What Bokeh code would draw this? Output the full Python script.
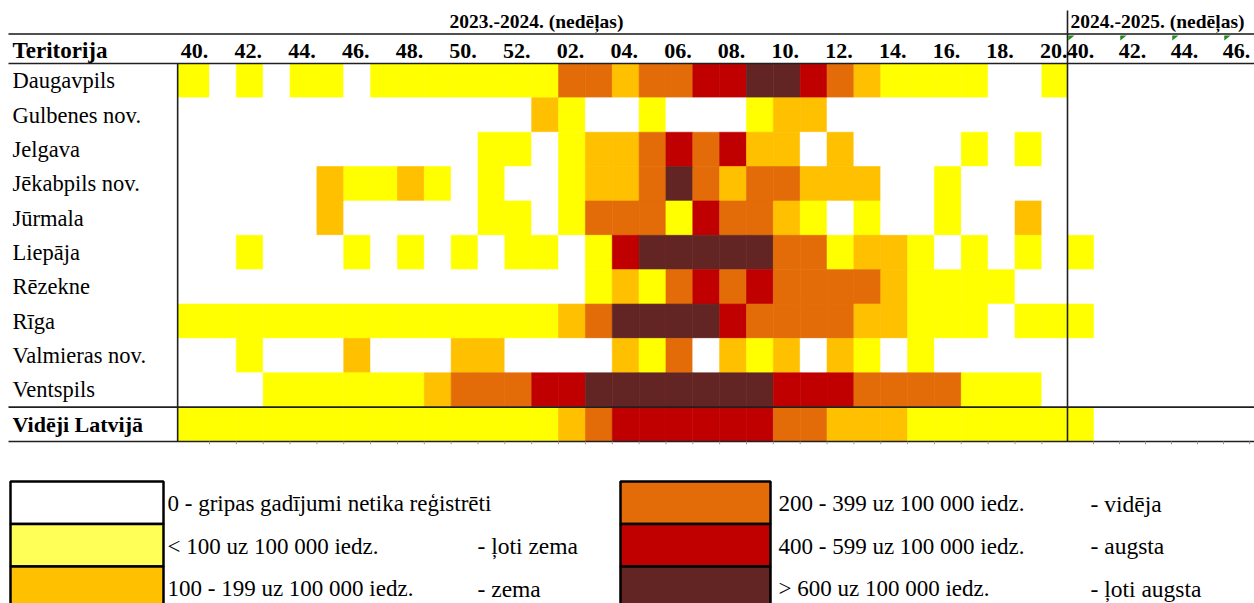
from bokeh.plotting import figure
from bokeh.models import Range1d, ColumnDataSource
from bokeh.embed import file_html
from bokeh.resources import INLINE
from bokeh.core.properties import value

# ---------------- data ----------------
weeks_2023_24 = ["40", "41", "42", "43", "44", "45", "46", "47", "48", "49", "50", "51", "52",
                 "01", "02", "03", "04", "05", "06", "07", "08", "09", "10", "11", "12", "13",
                 "14", "15", "16", "17", "18", "19", "20"]
weeks_2024_25 = ["40", "41", "42", "43", "44", "45", "46"]
season_titles = ["2023.-2024. (nedēļas)", "2024.-2025. (nedēļas)"]

regions = ["Daugavpils", "Gulbenes nov.", "Jelgava", "Jēkabpils nov.", "Jūrmala",
           "Liepāja", "Rēzekne", "Rīga", "Valmieras nov.", "Ventspils"]
total_label = "Vidēji Latvijā"
header_label = "Teritorija"

# intensity level per week: 0 none, 1 very low, 2 low, 3 medium, 4 high, 5 very high
daugavpils = [1, 0, 1, 0, 1, 1, 0, 1, 1, 1, 1, 1, 1, 1, 3, 3, 2, 3, 3, 4, 4, 5, 5, 4, 3, 2, 1, 1, 1, 1, 0, 0, 1]
gulbenes   = [0, 0, 0, 0, 0, 0, 0, 0, 0, 0, 0, 0, 0, 2, 1, 0, 0, 1, 0, 0, 0, 1, 2, 2, 0, 0, 0, 0, 0, 0, 0, 0, 0]
jelgava    = [0, 0, 0, 0, 0, 0, 0, 0, 0, 0, 0, 1, 1, 0, 1, 2, 2, 3, 4, 3, 4, 2, 2, 0, 2, 0, 0, 0, 0, 1, 0, 1, 0]
jekabpils  = [0, 0, 0, 0, 0, 2, 1, 1, 2, 1, 0, 1, 0, 0, 1, 2, 2, 3, 5, 3, 2, 3, 3, 2, 2, 2, 0, 0, 1, 0, 0, 0, 0]
jurmala    = [0, 0, 0, 0, 0, 2, 0, 0, 0, 0, 0, 1, 1, 0, 1, 3, 3, 3, 1, 4, 3, 3, 2, 1, 0, 1, 0, 0, 1, 0, 0, 2, 0]
liepaja    = [0, 0, 1, 0, 0, 0, 1, 0, 1, 0, 1, 0, 1, 1, 0, 1, 4, 5, 5, 5, 5, 5, 3, 3, 1, 2, 2, 1, 0, 1, 0, 1, 0]
rezekne    = [0, 0, 0, 0, 0, 0, 0, 0, 0, 0, 0, 0, 0, 0, 0, 1, 2, 1, 3, 4, 3, 4, 3, 3, 3, 3, 2, 1, 1, 1, 1, 0, 0]
riga       = [1, 1, 1, 1, 1, 1, 1, 1, 1, 1, 1, 1, 1, 1, 2, 3, 5, 5, 5, 5, 4, 3, 3, 3, 3, 2, 2, 1, 1, 1, 0, 1, 1]
valmieras  = [0, 0, 1, 0, 0, 0, 2, 0, 0, 0, 2, 2, 0, 0, 0, 0, 2, 1, 3, 0, 2, 1, 2, 0, 2, 1, 0, 1, 0, 0, 0, 0, 0]
ventspils  = [0, 0, 0, 1, 1, 1, 1, 1, 1, 2, 3, 3, 3, 4, 4, 5, 5, 5, 5, 5, 5, 5, 4, 4, 4, 3, 3, 3, 3, 1, 1, 1, 0]
latvija    = [1, 1, 1, 1, 1, 1, 1, 1, 1, 1, 1, 1, 1, 1, 2, 3, 4, 4, 4, 4, 4, 4, 3, 3, 2, 2, 2, 1, 1, 1, 1, 1, 1]

# 2024-2025 season: only week 40 reported (order = regions + total)
season2_week40 = [0, 0, 0, 0, 0, 1, 0, 1, 0, 0, 1]

level_colors = ["#FFFFFF", "#FFFF00", "#FFC000", "#E36C09", "#C00000", "#632523"]
legend_colors = ["#FFFFFF", "#FFFF57", "#FFC000", "#E36C09", "#C00000", "#632523"]
legend_ranges = ["0 - gripas gadījumi netika reģistrēti", "<  100 uz 100 000 iedz.",
                 "100 - 199 uz 100 000 iedz.", "200 - 399 uz 100 000 iedz.",
                 "400 - 599 uz 100 000 iedz.", ">  600 uz 100 000 iedz."]
legend_levels = ["", "- ļoti zema", "- zema", "- vidēja", "- augsta", "- ļoti augsta"]

series = [daugavpils, gulbenes, jelgava, jekabpils, jurmala, liepaja,
          rezekne, riga, valmieras, ventspils, latvija]
row_labels = regions + [total_label]

# ---------------- layout ----------------
FIG_W, FIG_H = 1254, 603
CW = 26.85                 # column width px (season 2023-24)
ORIGIN = 209 - CW          # nominal left edge of first week column (px)
FIRST_EXTRA = 5 / CW       # first week column is drawn slightly wider
CW2 = 26.0                 # column width px (season 2024-25)
S2_LEFT = 1067             # left edge of season 2024-25 block (px)
Y0 = 63                    # top of first data row (px)
RH = 378 / 11              # row height px

n1 = len(weeks_2023_24)
n2 = len(weeks_2024_25)


def dx(px):
    return (px - ORIGIN) / CW


def dx2(px):
    return n1 + (px - S2_LEFT) / CW2


def dy(py):
    return (py - Y0) / RH


FONT = value("Liberation Serif")

p = figure(width=FIG_W, height=FIG_H,
           x_range=Range1d(dx(0), dx(FIG_W)),
           y_range=Range1d(dy(FIG_H), dy(0)),
           output_backend="svg", toolbar_location=None,
           x_axis_type=None, y_axis_type=None, min_border=0)
p.extra_x_ranges = {"s2": Range1d(dx2(0), dx2(FIG_W))}
p.outline_line_color = None
p.grid.visible = False
p.background_fill_color = "white"

# ---------------- cells ----------------
L, R, T, B, C = [], [], [], [], []
for r, s in enumerate(series):
    for i, lvl in enumerate(s):
        L.append(i - (FIRST_EXTRA if i == 0 else 0)); R.append(i + 1)
        T.append(r); B.append(r + 1); C.append(level_colors[lvl])
p.quad(left="left", right="right", top="top", bottom="bottom",
       source=ColumnDataSource(dict(left=L, right=R, top=T, bottom=B, color=C)),
       fill_color="color", line_color="color", line_width=0.6)

L2, R2, T2, B2, C2 = [], [], [], [], []
for r, lvl in enumerate(season2_week40):
    L2.append(n1); R2.append(n1 + 1); T2.append(r); B2.append(r + 1); C2.append(level_colors[lvl])
p.quad(left="left", right="right", top="top", bottom="bottom", x_range_name="s2",
       source=ColumnDataSource(dict(left=L2, right=R2, top=T2, bottom=B2, color=C2)),
       fill_color="color", line_color="color", line_width=0.6)

# ---------------- lines ----------------
x_left = dx(8)
x_right = p.x_range.end
n_rows = len(series)
p.segment(x0=[x_left], x1=[x_right], y0=[dy(33.5)], y1=[dy(33.5)], line_color="#505050", line_width=2)
p.segment(x0=[x_left, x_left, x_left], x1=[x_right] * 3,
          y0=[0, n_rows - 1, n_rows], y1=[0, n_rows - 1, n_rows],
          line_color="#202020", line_width=1.6)
p.segment(x0=[-FIRST_EXTRA], x1=[-FIRST_EXTRA], y0=[0], y1=[n_rows], line_color="#202020", line_width=1.6)
p.segment(x0=[n1], x1=[n1], y0=[dy(10)], y1=[n_rows], x_range_name="s2",
          line_color="#202020", line_width=1.6)
# small grid ticks under the table
tick_x = list(range(1, n1))
p.segment(x0=tick_x, x1=tick_x, y0=[n_rows] * len(tick_x), y1=[n_rows + 0.08] * len(tick_x),
          line_color="#9a9a9a", line_width=1)
tick_x2 = list(range(n1 + 1, n1 + n2 + 1))
p.segment(x0=tick_x2, x1=tick_x2, y0=[n_rows] * len(tick_x2), y1=[n_rows + 0.08] * len(tick_x2),
          x_range_name="s2", line_color="#9a9a9a", line_width=1)

# green comment markers in 2024-25 header
tri_xs, tri_ys = [], []
for j in range(0, n2, 2):
    c = n1 + j
    tri_xs.append([c + 0.03, c + 0.27, c + 0.03])
    tri_ys.append([dy(35), dy(35), dy(40)])
p.patches(xs=tri_xs, ys=tri_ys, x_range_name="s2", fill_color="#1E8C1E", line_color=None)

# ---------------- texts ----------------
p.text(x=[dx(12)] * len(regions), y=[r + 0.5 for r in range(len(regions))], text=regions,
       text_font=FONT, text_font_size="22.5px", text_align="left", text_baseline="middle",
       text_color="black")
p.text(x=[dx(12)], y=[n_rows - 0.5], text=[total_label], text_font=FONT, text_font_style="bold",
       text_font_size="22px", text_align="left", text_baseline="middle", text_color="black")
p.text(x=[dx(12)], y=[dy(50)], text=[header_label], text_font=FONT, text_font_style="bold",
       text_font_size="23px", text_align="left", text_baseline="middle", text_color="black")

hx = [i + 0.5 for i in range(0, n1, 2)]
ht = [weeks_2023_24[i] + "." for i in range(0, n1, 2)]
p.text(x=hx, y=[dy(50)] * len(hx), text=ht, x_offset=-1.5, text_font=FONT, text_font_style="bold",
       text_font_size="22px", text_align="center", text_baseline="middle", text_color="black")
hx2 = [n1 + j + 0.5 for j in range(0, n2, 2)]
ht2 = [weeks_2024_25[j] + "." for j in range(0, n2, 2)]
p.text(x=hx2, y=[dy(50)] * len(hx2), text=ht2, x_range_name="s2", text_font=FONT,
       text_font_style="bold", text_font_size="22px", text_align="center", text_baseline="middle",
       text_color="black")

p.text(x=[dx(536)], y=[dy(21)], text=[season_titles[0]], text_font=FONT, text_font_style="bold",
       text_font_size="19.5px", text_align="center", text_baseline="middle", text_color="black")
p.text(x=[n1 + 0.12], y=[dy(21)], text=[season_titles[1]], x_range_name="s2", text_font=FONT,
       text_font_style="bold", text_font_size="19.5px", text_align="left", text_baseline="middle",
       text_color="black")

# ---------------- legend ----------------
box_h = 42.5
leg_top = 481
lq = dict(left=[], right=[], top=[], bottom=[], color=[])
lt = dict(x=[], y=[], text=[])
ls = dict(x=[], y=[], text=[])
for k in range(len(legend_colors)):
    col = k // 3
    row = k % 3
    bx0, bx1 = (10, 163) if col == 0 else (620, 770)
    tx = 167 if col == 0 else 778
    sx = 477 if col == 0 else 1090
    top = leg_top + row * box_h
    lq["left"].append(dx(bx0)); lq["right"].append(dx(bx1))
    lq["top"].append(dy(top)); lq["bottom"].append(dy(top + box_h))
    lq["color"].append(legend_colors[k])
    lt["x"].append(dx(tx)); lt["y"].append(dy(top + box_h / 2 + 1)); lt["text"].append(legend_ranges[k])
    ls["x"].append(dx(sx)); ls["y"].append(dy(top + box_h / 2 + 1)); ls["text"].append(legend_levels[k])
p.quad(left="left", right="right", top="top", bottom="bottom", source=ColumnDataSource(lq),
       fill_color="color", line_color="black", line_width=2.5)
p.text(x="x", y="y", text="text", source=ColumnDataSource(lt), text_font=FONT,
       text_font_size="23px", text_align="left", text_baseline="middle", text_color="black")
p.text(x="x", y="y", text="text", source=ColumnDataSource(ls), text_font=FONT,
       text_font_size="23.5px", text_align="left", text_baseline="middle", text_color="black")

open("out.html", "w").write(file_html(p, INLINE))
